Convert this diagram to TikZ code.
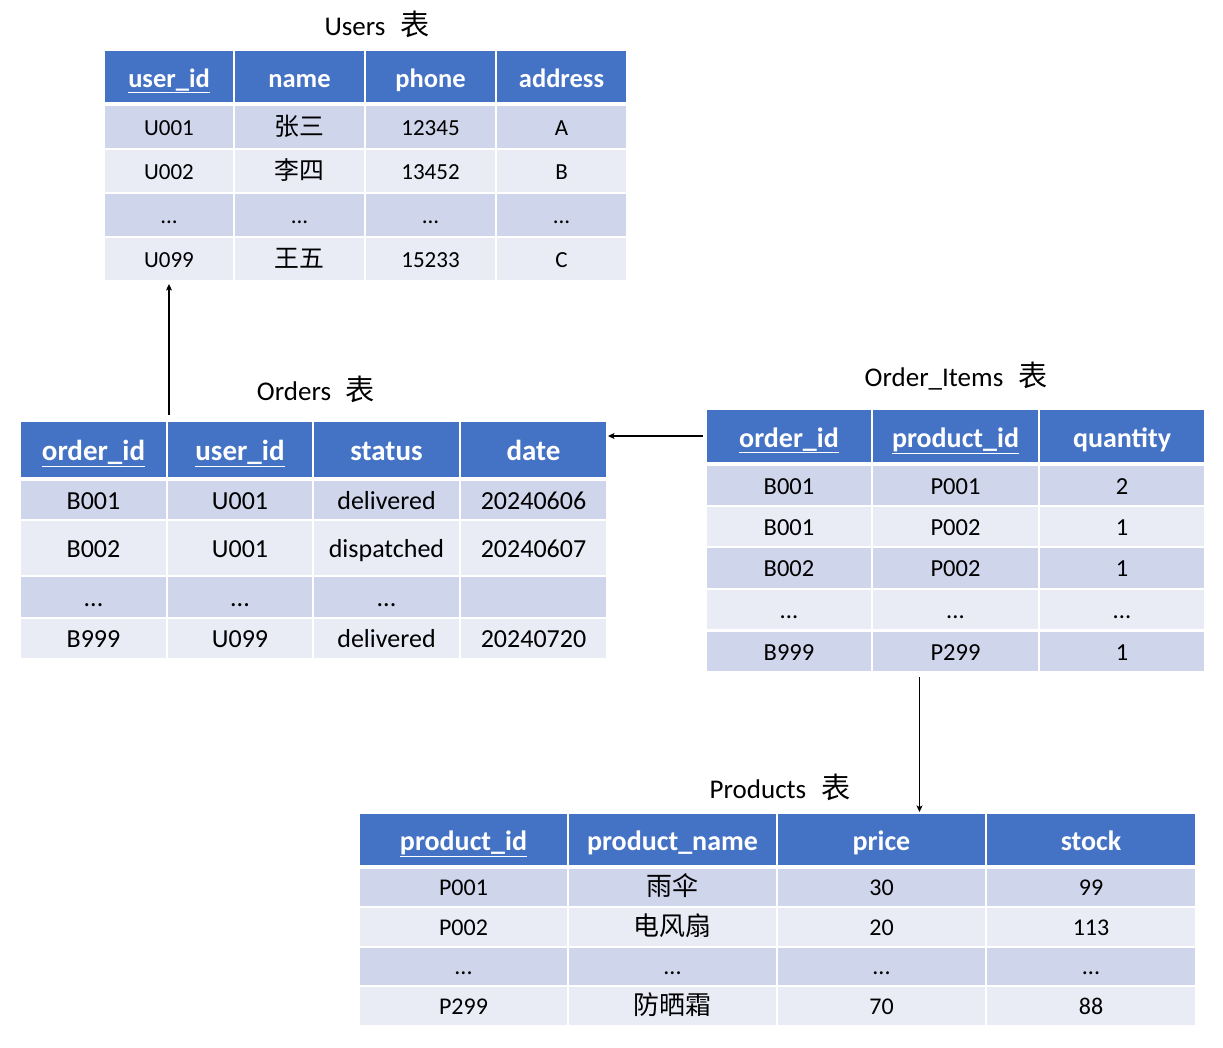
\documentclass[tikz,border=0pt]{standalone}
\usepackage{fontspec}
\setmainfont{Carlito}
\newfontfamily\cjk[Scale=1.08]{Noto Sans CJK SC}
\usetikzlibrary{arrows.meta}
\definecolor{hb}{HTML}{4472C4}
\definecolor{dk}{HTML}{CFD5EA}
\definecolor{lt}{HTML}{E9EBF5}
\newcommand\dd{...}
\tikzset{
  base/.style={inner sep=0pt, outer sep=0pt, text depth=0pt, align=center},
  hdr/.style={base, fill=hb, text=white, font=\bfseries\fontsize{#1}{#1}\selectfont},
  bdy/.style={base, text=black, font=\fontsize{#1}{#1}\selectfont},
  ttl/.style={inner sep=0pt, font=\fontsize{27}{30}\selectfont},
  arr/.style={line width=1.4pt, -{Stealth[length=6.5pt,width=6pt,inset=1.5pt]}}
}
% #1 prefix, #2 row index, #3 top y, #4 bottom y, #5 style, #6 cell texts
\newcommand\mkrow[6]{%
  \foreach \t [count=\c] in {#6} {
    \pgfmathsetmacro\xa{\colL[\c-1]}
    \pgfmathsetmacro\xb{\colR[\c-1]}
    \node[#5, anchor=north west, minimum width={(\xb-\xa)*1pt}, minimum height={(#4-#3)*1pt}] (#1#2\c) at (\xa,#3) {\t};
  }}
\begin{document}
\begin{tikzpicture}[x=1pt,y=-1pt]
\useasboundingbox (0,0) rectangle (1223,1047);

% ---------- Users ----------
\node[ttl] (tU) at (377,24) {Users\hspace{0.55em}{\cjk 表}};
\def\colL{{105,235,366,497}}\def\colR{{233,364,495,626}}
\mkrow{u}{0}{51}{102}{hdr=26.5,text height=21pt}{\underline{user\_id},name,phone,address}
\mkrow{u}{1}{106}{148}{bdy=23,text height=16.5pt,fill=dk}{U001,{\cjk 张三},12345,A}
\mkrow{u}{2}{150}{192}{bdy=23,text height=16.5pt,fill=lt}{U002,{\cjk 李四},13452,B}
\mkrow{u}{3}{194}{236}{bdy=23,text height=16.5pt,fill=dk}{\dd,\dd,\dd,\dd}
\mkrow{u}{4}{238}{280}{bdy=23,text height=16.5pt,fill=lt}{U099,{\cjk 王五},15233,C}

% ---------- Orders ----------
\node[ttl] (tO) at (316,389) {Orders\hspace{0.55em}{\cjk 表}};
\def\colL{{21,168,314,461}}\def\colR{{166,312,459,606}}
\mkrow{o}{0}{422}{477}{hdr=29,text height=22pt}{\underline{order\_id},\underline{user\_id},status,date}
\mkrow{o}{1}{481}{519}{bdy=26,text height=18pt,fill=dk}{B001,U001,delivered,20240606}
\mkrow{o}{2}{521}{575}{bdy=26,text height=18pt,fill=lt}{B002,U001,dispatched,20240607}
\mkrow{o}{3}{577}{617}{bdy=26,text height=18pt,fill=dk}{\dd,\dd,\dd,{}}
\mkrow{o}{4}{619}{658}{bdy=26,text height=18pt,fill=lt}{B999,U099,delivered,20240720}

% ---------- Order_Items ----------
\node[ttl] (tI) at (956,376) {Order\_Items\hspace{0.55em}{\cjk 表}};
\def\colL{{707,873,1040}}\def\colR{{871,1038,1204}}
\mkrow{i}{0}{410}{462}{hdr=28,text height=22pt}{\underline{order\_id},\underline{product\_id},quantity}
\mkrow{i}{1}{466}{505}{bdy=24.5,text height=17pt,fill=dk}{B001,P001,2}
\mkrow{i}{2}{507}{546}{bdy=24.5,text height=17pt,fill=lt}{B001,P002,1}
\mkrow{i}{3}{548}{588}{bdy=24.5,text height=17pt,fill=dk}{B002,P002,1}
\mkrow{i}{4}{590}{629}{bdy=24.5,text height=17pt,fill=lt}{\dd,\dd,\dd}
\mkrow{i}{5}{632}{671}{bdy=24.5,text height=17pt,fill=dk}{B999,P299,1}

% ---------- Products ----------
\node[ttl] (tP) at (780,787) {Products\hspace{0.55em}{\cjk 表}};
\def\colL{{360,569,778,987}}\def\colR{{567,776,985,1195}}
\mkrow{p}{0}{814}{865}{hdr=28,text height=21pt}{\underline{product\_id},product\_name,price,stock}
\mkrow{p}{1}{869}{906}{bdy=24,text height=16.5pt,fill=dk}{P001,{\cjk 雨伞},30,99}
\mkrow{p}{2}{908}{946}{bdy=24,text height=16.5pt,fill=lt}{P002,{\cjk 电风扇},20,113}
\mkrow{p}{3}{948}{985}{bdy=24,text height=16.5pt,fill=dk}{\dd,\dd,\dd,\dd}
\mkrow{p}{4}{987}{1025}{bdy=24,text height=16.5pt,fill=lt}{P299,{\cjk 防晒霜},70,88}

% ---------- connectors ----------
\coordinate (a1) at ([yshift=7pt]o02.north west);
\coordinate (b1) at ([yshift=-4pt]u41.south);
\draw[arr] (a1 -| b1) -- (b1);

\coordinate (a2) at ([xshift=-4pt]i01.west);
\coordinate (b2) at (a2 -| o04.east);
\draw[arr] (a2) -- ([xshift=2pt]b2);

\coordinate (a3) at ([xshift=-36pt,yshift=-6pt]i52.south);
\coordinate (b3) at (a3 |- p03.north);
\draw[arr] (a3) -- ([yshift=2pt]b3);
\end{tikzpicture}
\end{document}
